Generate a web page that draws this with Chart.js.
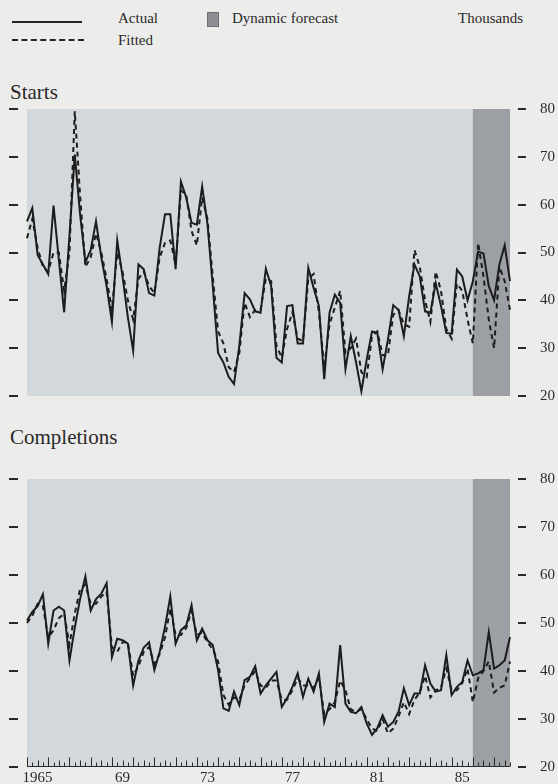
<!DOCTYPE html>
<html>
<head>
<meta charset="utf-8">
<script src="https://cdn.jsdelivr.net/npm/chart.js@4.4.1/dist/chart.umd.min.js"></script>
<style>
  body { margin: 0; background: #ececea; }
  #page { position: relative; width: 558px; height: 784px; overflow: hidden; font-family: 'Liberation Serif', 'DejaVu Serif', serif; color: #2a2a2a; }
  .txt { position: absolute; white-space: nowrap; line-height: 18px; font-size: 15px; }
  .title { position: absolute; white-space: nowrap; font-size: 21px; line-height: 24px; }
  canvas { position: absolute; left: 0; }
</style>
</head>
<body>
<div id="page">
  <!-- legend -->
  <div style="position:absolute;left:12px;top:21px;width:70px;border-top:2px solid #222;"></div>
  <div style="position:absolute;left:12px;top:39px;width:72px;border-top:2px dashed #222;"></div>
  <div class="txt" style="left:118px;top:9px;">Actual</div>
  <div class="txt" style="left:118px;top:31px;">Fitted</div>
  <div style="position:absolute;left:207px;top:12px;width:10px;height:13px;background:#8c8e93;border:1px solid #6d6f73;"></div>
  <div class="txt" style="left:232px;top:9px;">Dynamic forecast</div>
  <div class="txt" style="left:458px;top:9px;">Thousands</div>

  <div class="title" style="left:10px;top:80px;">Starts</div>
  <div class="title" style="left:10px;top:425px;">Completions</div>

  <canvas id="starts" width="558" height="305" style="top:100px;"></canvas>
  <canvas id="completions" width="558" height="314" style="top:470px;"></canvas>
</div>

<script>
// quarters 1965 Q1 .. 1987 Q4
const firstYear = 1965;
const lastYear = 1987;
const quarters = [];
for (let y = firstYear; y <= lastYear; y++) {
  for (let q = 1; q <= 4; q++) quarters.push(y + ' Q' + q);
}
const forecastStart = '1986 Q1';

const xTickLabels = ['1965', '69', '73', '77', '81', '85'];
const yTicks = [20, 30, 40, 50, 60, 70, 80];

// Starts (thousands)
const startsActual = [
  56.5, 59.3, 49.5, 47.5, 45.5, 59.8, 48.5, 37.5, 53.5, 70.5,
  58, 48, 50.5, 56.5, 49, 43, 35.5, 52.5, 45, 36.5,
  29.5, 47.5, 46.5, 41.5, 41, 51, 58, 58, 46.5, 64.8,
  61.5, 56.2, 55.8, 63.8, 56, 43, 29, 27, 24, 22.5,
  30.5, 41.5, 40.2, 37.7, 37.4, 46.6, 43, 28, 27, 38.8,
  39, 31, 31, 46.8, 42.6, 38.8, 23.5, 37.4, 41.2, 39.5,
  25.6, 32.5, 27, 21, 27.6, 33.5, 33.2, 25.6, 31.8, 39,
  38, 32.5, 40.8, 47.5, 45, 37.7, 37.4, 43.6, 38.8, 33.2,
  33, 46.4, 45, 40, 44, 50.2, 49.8, 43, 40, 47.5,
  51.5, 44
];
const startsFitted = [
  53, 57, 51, 47, 46, 50, 50, 42, 50, 79.5,
  62, 47, 49, 54, 50, 44.5, 38, 50, 46, 40,
  36, 44.5, 46, 43, 41.5, 49, 52, 52.5, 47.5, 63,
  62, 54.5, 51.5, 61.5, 57, 45, 33.5, 31, 26, 25,
  29, 39.5, 36.5, 38, 38, 44.5, 44, 30.5, 28, 34,
  37.5, 32, 31.5, 44.5, 45.5, 37.5, 26, 35, 38.5, 42,
  29, 30, 32, 25, 24, 32.5, 33.5, 28.5, 28.5, 37,
  38, 35, 34.5, 50.5, 47, 40, 35.5, 46, 42, 34,
  32, 43.5, 42, 36, 31, 52, 45, 36, 30, 47,
  44, 38
];

// Completions (thousands)
const completionsActual = [
  50.5, 52.3, 53.5, 56, 45.7, 52.6, 53.4, 52.6, 42.2, 49,
  55, 59.7, 52.6, 55, 56.1, 58.3, 42.9, 46.7, 46.4, 45.7,
  37, 42.2, 44.9, 46, 40.2, 44, 49.2, 55.5, 45.7, 48.5,
  49.5, 53.7, 46.4, 48.8, 46.4, 45.4, 40.2, 32.2, 31.7, 35.7,
  32.9, 38.1, 38.8, 41, 35.3, 37, 38.4, 39.8, 32.5, 34.3,
  36.7, 39.5, 34.6, 38.4, 35.7, 39.5, 29.4, 33.2, 32.5, 45.4,
  33.2, 31.5, 31.2, 32.5, 29.1, 26.7, 28.1, 30.8, 28.4, 29.4,
  31.5, 36.4, 32.9, 35.3, 35.3, 41.2, 37.4, 35.7, 36, 43.3,
  35, 36.7, 37.7, 42.2, 39.1, 39.5, 40.2, 48.1, 40.5, 41.2,
  42.2, 47.1
];
const completionsFitted = [
  50, 51.5, 54, 53.5, 47, 48.5, 51, 52, 45.5, 52,
  57, 58, 54, 54, 55.5, 56.5, 45, 44, 46, 46,
  39, 41, 44, 45, 41.5, 43.5, 47, 53, 47.5, 47.5,
  49, 52.5, 47.5, 48, 46, 44.5, 42, 35, 33, 34.5,
  34, 37, 38.5, 40, 37, 36.5, 38, 38, 34, 34,
  36, 38.5, 37, 37, 36.5, 38.5, 31, 32, 33.5, 38,
  36, 32, 31.5, 32, 30, 28, 27.5, 30, 27, 28,
  30.5, 33.5, 31, 34, 35.5, 39, 34.5, 36, 36.5, 40.5,
  36, 36, 37.5, 40.5, 33.5, 38.5, 40, 42, 35.5, 36.5,
  37, 42
];

const FONT = "'Liberation Serif', 'DejaVu Serif', serif";

// grey plot area with the darker forecast block
const panelBg = {
  id: 'panelBg',
  beforeDraw(chart) {
    const { ctx, chartArea: a, scales: { x } } = chart;
    ctx.save();
    ctx.fillStyle = '#d3d8dc';
    ctx.fillRect(a.left, a.top, a.right - a.left, a.bottom - a.top);
    const fx = x.getPixelForValue(quarters.indexOf(forecastStart));
    ctx.fillStyle = '#9c9fa4';
    ctx.fillRect(fx, a.top, a.right - fx, a.bottom - a.top);
    ctx.restore();
  }
};

// small detached dashes at each value level, both sides
const tickDashes = {
  id: 'tickDashes',
  afterDraw(chart) {
    const { ctx, chartArea: a, scales: { y } } = chart;
    ctx.save();
    ctx.strokeStyle = '#2a2a2a';
    ctx.lineWidth = 2;
    yTicks.forEach(v => {
      const py = Math.round(y.getPixelForValue(v));
      ctx.beginPath();
      ctx.moveTo(9, py); ctx.lineTo(18, py);
      ctx.moveTo(a.right + 8, py); ctx.lineTo(a.right + 16, py);
      ctx.stroke();
    });
    ctx.restore();
  }
};

// quarter ticks standing on the bottom edge of the lower panel
const quarterTicks = {
  id: 'quarterTicks',
  afterDatasetsDraw(chart) {
    const { ctx, chartArea: a, scales: { x } } = chart;
    ctx.save();
    ctx.strokeStyle = '#2a2a2a';
    ctx.lineWidth = 1;
    const base = a.bottom - 0.5;
    ctx.beginPath();
    ctx.moveTo(a.left, base); ctx.lineTo(a.right, base);
    quarters.forEach((q, i) => {
      const px = Math.round(x.getPixelForValue(i)) + 0.5;
      const len = i % 4 === 0 ? 9 : (i % 4 === 2 ? 6 : 4);
      ctx.moveTo(px, base); ctx.lineTo(px, base - len);
    });
    ctx.stroke();
    ctx.restore();
  }
};

function makePanel(id, actual, fitted, showX) {
  return new Chart(document.getElementById(id), {
    type: 'line',
    data: {
      labels: quarters,
      datasets: [
        { label: 'Fitted', data: fitted, borderColor: '#1c1c1c', borderWidth: 2, borderDash: [5, 4], pointRadius: 0, tension: 0 },
        { label: 'Actual', data: actual, borderColor: '#1c1c1c', borderWidth: 2, pointRadius: 0, tension: 0 }
      ]
    },
    options: {
      responsive: false,
      animation: false,
      devicePixelRatio: 1,
      layout: { padding: { left: 27, right: 0, top: showX ? 8 : 9, bottom: showX ? 0 : 8 } },
      plugins: { legend: { display: false }, tooltip: { enabled: false } },
      scales: {
        x: {
          type: 'category',
          display: showX,
          offset: false,
          grid: { display: false },
          border: { display: false },
          ticks: {
            autoSkip: false,
            maxRotation: 0,
            padding: -6,
            color: '#2a2a2a',
            font: { family: FONT, size: 15 },
            callback: (v, i) => (i % 16 === 2 ? xTickLabels[(i - 2) / 16] : '')
          },
          afterFit: s => { s.height = showX ? 17 : 0; }
        },
        y: {
          position: 'right',
          min: 20,
          max: 80,
          // invisible tick marks only push the labels out to the right
          grid: { display: true, drawOnChartArea: false, drawTicks: true, tickLength: 30, color: 'rgba(0,0,0,0)' },
          border: { display: false },
          ticks: {
            stepSize: 10,
            padding: 0,
            color: '#2a2a2a',
            font: { family: FONT, size: 15 }
          },
          afterFit: s => { s.width = 48; }
        }
      }
    },
    plugins: showX ? [panelBg, tickDashes, quarterTicks] : [panelBg, tickDashes]
  });
}

makePanel('starts', startsActual, startsFitted, false);
makePanel('completions', completionsActual, completionsFitted, true);
</script>
</body>
</html>
